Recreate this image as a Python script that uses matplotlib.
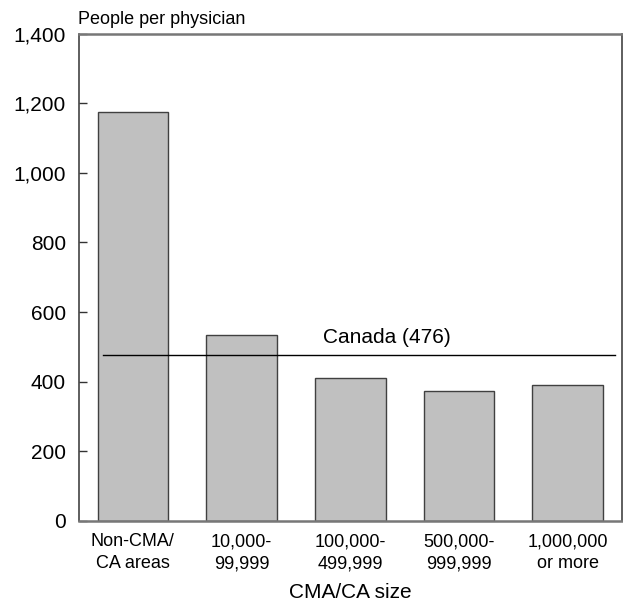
import matplotlib
matplotlib.use("Agg")
import matplotlib.pyplot as plt

categories = ["Non-CMA/\nCA areas", "10,000-\n99,999", "100,000-\n499,999",
              "500,000-\n999,999", "1,000,000\nor more"]
people_per_physician = [1174, 533, 411, 372, 391]
canada_value = 476
yticks = [0, 200, 400, 600, 800, 1000, 1200, 1400]

plt.rcParams['font.family'] = ['Liberation Sans', 'DejaVu Sans']

fig = plt.figure(figsize=(6.23, 6.03), dpi=100)
ax = fig.add_axes([78.5 / 623, 1 - 521 / 603, (622 - 78.5) / 623, (521 - 33.5) / 603])

x = range(len(categories))
ax.bar(x, people_per_physician, width=0.65, color='#c0c0c0',
       edgecolor='#404040', linewidth=1)

ax.plot([-0.272, 4.436], [canada_value, canada_value], color='black', linewidth=1)
ax.text(2.338, canada_value + 25, f"Canada ({canada_value})", ha='center',
        va='bottom', fontsize=15)

ax.set_xlim(-0.5, 4.5)
ax.set_ylim(0, 1400)
ax.set_yticks(yticks)
ax.set_yticklabels([f"{v:,}" for v in yticks], fontsize=15)
ax.tick_params(axis='y', direction='in', length=6, width=1, pad=9, color='#333333')
ax.set_xticks(list(x))
ax.set_xticklabels(categories, fontsize=13, linespacing=1.35)
ax.tick_params(axis='x', length=0, pad=9)

ax.set_xlabel("CMA/CA size", fontsize=15, labelpad=8)
ax.text(0, 1.012, "People per physician", transform=ax.transAxes,
        ha='left', va='bottom', fontsize=13)

for side in ['top', 'bottom']:
    ax.spines[side].set_color('#777777')
    ax.spines[side].set_linewidth(1.8)
for side in ['left', 'right']:
    ax.spines[side].set_color('#333333')
    ax.spines[side].set_linewidth(1.1)

fig.savefig("out.png", dpi=100)
